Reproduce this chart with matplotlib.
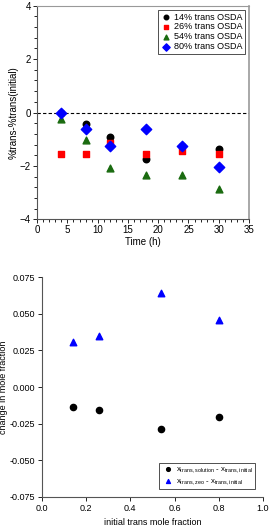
import matplotlib.pyplot as plt
import numpy as np
from matplotlib.ticker import MultipleLocator

plt.rcParams['font.family'] = ['Liberation Sans', 'DejaVu Sans']
plt.rcParams['font.size'] = 7

# top panel data
time_h = [4, 8, 12, 18, 24, 30]
osda14 = [0.0, -0.44, -0.91, -1.76, -1.24, -1.38]
osda26 = [-1.55, -1.55, -1.14, -1.55, -1.43, -1.55]
osda54 = [-0.25, -1.04, -2.08, -2.33, -2.33, -2.85]
osda80 = [0.0, -0.63, -1.25, -0.62, -1.25, -2.05]

# bottom panel data
x_init = [0.14, 0.26, 0.54, 0.80]
d_solution = [-0.0136, -0.0155, -0.0284, -0.0205]
d_zeo = [0.0305, 0.0352, 0.0643, 0.0455]

fig = plt.figure(figsize=(2.71, 5.27), dpi=100)

# Top panel
ax1 = fig.add_axes([0.137, 0.584, 0.782, 0.405])
ax1.scatter(time_h, osda14, s=22, marker='o', color='black', label='14% trans OSDA', zorder=3)
ax1.scatter(time_h, osda26, s=22, marker='s', color='red', label='26% trans OSDA', zorder=3)
ax1.scatter(time_h, osda54, s=24, marker='^', color='#1a6b10', label='54% trans OSDA', zorder=3)
ax1.scatter(time_h, osda80, s=28, marker='D', color='blue', label='80% trans OSDA', zorder=3)
ax1.axhline(0, color='black', linestyle='--', linewidth=0.8, dashes=(3, 2))
ax1.set_xlim(0, 35)
ax1.set_ylim(-4, 4)
ax1.set_xticks(np.arange(0, 36, 5))
ax1.set_yticks([-4, -2, 0, 2, 4])
ax1.xaxis.set_minor_locator(MultipleLocator(1))
ax1.yaxis.set_minor_locator(MultipleLocator(0.4))
ax1.tick_params(which='both', direction='out', length=3, width=0.6, labelsize=7, pad=1.5)
ax1.tick_params(which='minor', length=2)
ax1.set_xlabel('Time (h)', fontsize=7, labelpad=1)
ax1.set_ylabel('%trans-%trans(initial)', fontsize=7, labelpad=1)
for s in ax1.spines.values():
    s.set_color('#555555')
    s.set_linewidth(0.8)
ax1.spines['right'].set_color('#999999')
ax1.spines['right'].set_linewidth(1.2)
ax1.spines['top'].set_color('#999999')
leg1 = ax1.legend(loc='upper right', fontsize=6.5, fancybox=False, edgecolor='black',
                  handletextpad=0.3, borderpad=0.25, labelspacing=0.1, handlelength=1.2,
                  borderaxespad=0.5, markerscale=0.7)
leg1.get_frame().set_linewidth(0.6)

# Bottom panel
ax2 = fig.add_axes([0.155, 0.057, 0.815, 0.417])
ax2.scatter(x_init, d_solution, s=20, marker='o', color='black',
            label=r'$\mathregular{x_{trans,solution}}$ - $\mathregular{x_{trans,initial}}$')
ax2.scatter(x_init, d_zeo, s=22, marker='^', color='blue',
            label=r'$\mathregular{x_{trans,zeo}}$ - $\mathregular{x_{trans,initial}}$')
ax2.set_xlim(0, 1.0)
ax2.set_ylim(-0.075, 0.075)
ax2.set_xticks(np.arange(0, 1.01, 0.2))
ax2.set_yticks(np.arange(-0.075, 0.0751, 0.025))
ax2.xaxis.set_major_formatter(plt.FormatStrFormatter('%.1f'))
ax2.yaxis.set_major_formatter(plt.FormatStrFormatter('%.3f'))
ax2.tick_params(direction='out', length=3, width=0.6, labelsize=6.5, pad=2)
ax2.spines['right'].set_visible(False)
ax2.spines['top'].set_visible(False)
for s in ['left', 'bottom']:
    ax2.spines[s].set_color('#555555')
    ax2.spines[s].set_linewidth(0.8)
ax2.set_xlabel('initial trans mole fraction', fontsize=6.5, labelpad=4)
ax2.set_ylabel('change in mole fraction', fontsize=6.5, labelpad=1)
leg2 = ax2.legend(loc='lower right', fontsize=5.6, fancybox=False, edgecolor='black',
                  handletextpad=0.3, borderpad=0.3, labelspacing=0.2, handlelength=1.5,
                  borderaxespad=1.0, markerscale=0.6)
leg2.get_frame().set_linewidth(0.6)

fig.savefig('out.png', dpi=100)
